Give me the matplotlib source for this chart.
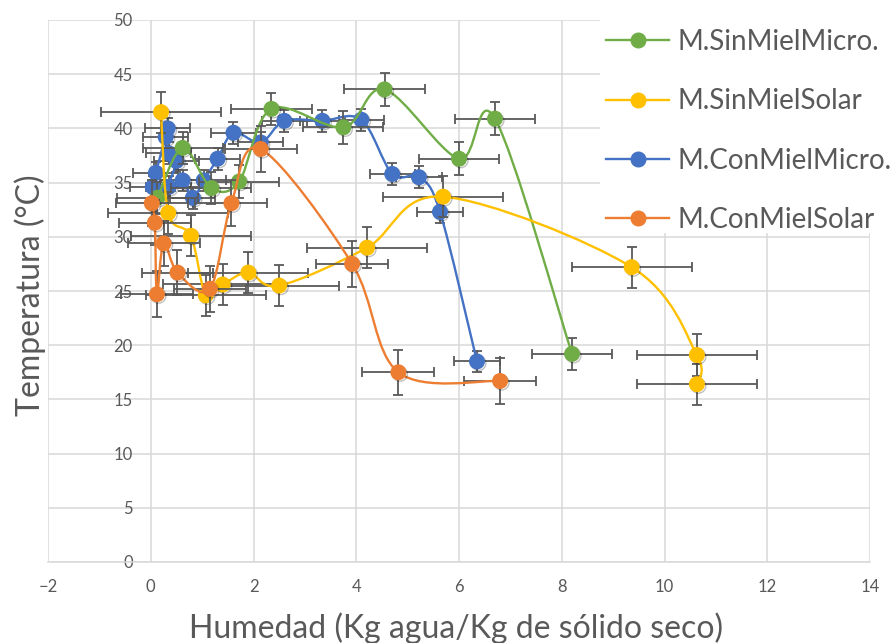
import numpy as np
import matplotlib
matplotlib.use("Agg")
import matplotlib.pyplot as plt
from matplotlib.path import Path
from matplotlib.patches import PathPatch, Rectangle
from matplotlib.lines import Line2D
import matplotlib.patheffects as pe

plt.rcParams['font.family'] = ['Lato', 'DejaVu Sans']

# ---------------- data ----------------
series_names = ["M.SinMielMicro.", "M.SinMielSolar", "M.ConMielMicro.", "M.ConMielSolar"]

sin_micro_x = [0.13, 0.62, 1.18, 1.72, 2.35, 3.75, 4.55, 6.00, 6.70, 8.20]
sin_micro_y = [33.6, 38.2, 34.5, 35.1, 41.8, 40.1, 43.6, 37.2, 40.9, 19.2]

sin_solar_x = [0.20, 0.34, 0.78, 1.07, 1.40, 1.90, 2.50, 4.21, 5.69, 9.36, 10.63, 10.63]
sin_solar_y = [41.5, 32.2, 30.1, 24.6, 25.6, 26.7, 25.5, 29.0, 33.7, 27.2, 19.1, 16.4]

con_micro_x = [0.04, 0.10, 0.33, 0.29, 0.35, 0.50, 0.35, 0.62, 0.82, 1.03, 1.30, 1.61, 2.14,
               2.60, 3.34, 4.10, 4.70, 5.22, 5.63, 6.35]
con_micro_y = [34.6, 35.9, 40.0, 39.2, 37.7, 37.0, 34.6, 35.2, 33.6, 35.2, 37.2, 39.6, 38.7,
               40.7, 40.7, 40.8, 35.8, 35.5, 32.3, 18.5]

con_solar_x = [0.02, 0.08, 0.12, 0.25, 0.52, 1.15, 1.57, 2.14, 3.92, 4.82, 6.80]
con_solar_y = [33.1, 31.3, 24.7, 29.4, 26.7, 25.2, 33.1, 38.1, 27.5, 17.5, 16.7]

# error bar half-widths per series (x, y)
sin_micro_err = (0.78, 1.5)
sin_solar_err = (1.17, 1.9)
con_micro_err = (0.44, 1.0)
con_solar_err = (0.70, 2.1)

x_ticks = [-2, 0, 2, 4, 6, 8, 10, 12, 14]
y_ticks = [0, 5, 10, 15, 20, 25, 30, 35, 40, 45, 50]

# ---------------- style ----------------
colors = ["#70AD47", "#FFC000", "#4472C4", "#ED7D31"]
text_color = "#595959"
grid_color = "#D9D9D9"
err_color = "#595959"

W, H = 894, 643
fig = plt.figure(figsize=(W / 100, H / 100), dpi=100)
ax_l, ax_r, ax_t, ax_b = 48, 870, 20, 562
ax = fig.add_axes([ax_l / W, 1 - ax_b / H, (ax_r - ax_l) / W, (ax_b - ax_t) / H])
ax.set_xlim(-2, 14)
ax.set_ylim(0, 50)
ax.set_xticks(x_ticks)
ax.set_yticks(y_ticks)
ax.grid(True, color=grid_color, lw=1.1, zorder=0)
ax.set_axisbelow(True)
for s in ["top", "right"]:
    ax.spines[s].set_visible(False)
ax.spines["bottom"].set_color(grid_color)
ax.spines["bottom"].set_linewidth(1.1)
ax.spines["left"].set_position(("data", 0))
ax.spines["left"].set_visible(False)
ax.tick_params(axis="both", length=0, colors=text_color, labelsize=12)
ax.tick_params(axis="y", pad=13)
ax.tick_params(axis="x", pad=12)
for lab in ax.get_yticklabels():
    lab.set_zorder(1)

# px per data unit for smoothing
sx = (ax_r - ax_l) / 16.0
sy = (ax_b - ax_t) / 50.0


def smooth_path(xs, ys):
    P = np.column_stack([np.asarray(xs) * sx, np.asarray(ys) * sy])
    verts = [P[0]]
    codes = [Path.MOVETO]
    n = len(P)
    for i in range(n - 1):
        p0 = P[i - 1] if i > 0 else P[i]
        p1, p2 = P[i], P[i + 1]
        p3 = P[i + 2] if i + 2 < n else P[i + 1]
        c1 = p1 + (p2 - p0) / 6.0
        c2 = p2 - (p3 - p1) / 6.0
        verts += [c1, c2, p2]
        codes += [Path.CURVE4] * 3
    V = np.array(verts)
    V[:, 0] /= sx
    V[:, 1] /= sy
    return Path(V, codes)


all_series = [
    (sin_micro_x, sin_micro_y, sin_micro_err),
    (sin_solar_x, sin_solar_y, sin_solar_err),
    (con_micro_x, con_micro_y, con_micro_err),
    (con_solar_x, con_solar_y, con_solar_err),
]
# drawing order: blue bottom, then green, yellow, orange on top
z_base = {2: 3, 0: 6, 1: 9, 3: 12}

shadow = [pe.SimpleLineShadow(offset=(1.2, -1.2), shadow_color="k", alpha=0.25), pe.Normal()]

for i, (xs, ys, (ex, ey)) in enumerate(all_series):
    zb = z_base[i]
    ax.errorbar(xs, ys, xerr=ex, yerr=ey, fmt="none", ecolor=err_color,
                elinewidth=1.3, capsize=3.6, capthick=1.3, zorder=zb)
    patch = PathPatch(smooth_path(xs, ys), facecolor="none", edgecolor=colors[i],
                      lw=1.7, zorder=zb + 0.5, capstyle="round", joinstyle="round")
    ax.add_patch(patch)
    ax.plot(xs, ys, ls="none", marker="o", ms=10.5, color=colors[i],
            mec=colors[i], zorder=zb + 1, path_effects=shadow)

# axis titles
fig.text(30 / W, 1 - 295 / H, "Temperatura (°C)", rotation=90, ha="center", va="center",
         fontsize=23, color=text_color)
fig.text(456 / W, 1 - 628 / H, "Humedad (Kg agua/Kg de sólido seco)", ha="center",
         va="center", fontsize=23, color=text_color)

# legend: white background box + frameless legend
fig.add_artist(Rectangle((600 / W, 1 - 233 / H), (W - 600) / W, 233 / H,
                         transform=fig.transFigure, facecolor="white",
                         edgecolor="none", zorder=40))
handles = [Line2D([0], [0], color=c, lw=1.7, marker="o", ms=10.5, mec=c) for c in colors]
leg = fig.legend(handles, series_names, loc="upper left",
                 bbox_to_anchor=(606 / W, 1 - 29 / H), frameon=False, fontsize=20,
                 labelcolor=text_color, handlelength=2.27, handletextpad=0.29,
                 labelspacing=1.2, borderpad=0.0, borderaxespad=0.0)
leg.set_zorder(50)

fig.savefig("out.png", dpi=100)
